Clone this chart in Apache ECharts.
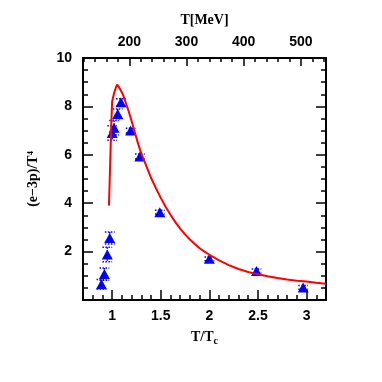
<!DOCTYPE html>
<html><head><meta charset="utf-8">
<script src="https://cdn.jsdelivr.net/npm/echarts@6/dist/echarts.min.js"></script>
<style>html,body{margin:0;padding:0;background:#fff}#c{width:382px;height:382px}</style>
</head><body><div id="c"></div>
<script>
// ---- data ----
const TC = 170; // MeV, conversion for the top axis
const curveX = [0.967, 0.975, 0.985, 0.993, 1.0, 1.02, 1.04, 1.052, 1.07, 1.09, 1.11, 1.14, 1.17, 1.2, 1.235, 1.27, 1.3, 1.35, 1.4, 1.45, 1.5, 1.55, 1.6, 1.65, 1.7, 1.75, 1.8, 1.85, 1.9, 1.95, 2.0, 2.1, 2.2, 2.3, 2.4, 2.5, 2.6, 2.7, 2.8, 2.9, 3.0, 3.1, 3.2];
const curveY = [3.9, 5.0, 6.4, 7.5, 8.2, 8.55, 8.8, 8.9, 8.8, 8.65, 8.5, 8.15, 7.8, 7.4, 6.9, 6.42, 6.05, 5.55, 5.05, 4.62, 4.22, 3.85, 3.52, 3.22, 2.95, 2.71, 2.5, 2.31, 2.14, 2.0, 1.87, 1.64, 1.44, 1.28, 1.16, 1.06, 0.98, 0.91, 0.85, 0.8, 0.76, 0.71, 0.67];
const ptX = [0.89, 0.92, 0.95, 0.975, 1.0, 1.02, 1.057, 1.09, 1.19, 1.285, 1.49, 2.0, 2.485, 2.965];
const ptY = [0.65, 1.07, 1.88, 2.56, 6.9, 7.12, 7.69, 8.17, 7.0, 5.93, 3.63, 1.7, 1.2, 0.52];
const ptXErr = [0.05, 0.05, 0.05, 0.05, 0.05, 0.05, 0.05, 0.05, 0.05, 0.05, 0.05, 0.05, 0.05, 0.05];
const ptYErr = [0.2, 0.25, 0.3, 0.25, 0.3, 0.3, 0.2, 0.15, 0.1, 0.1, 0.08, 0.08, 0.08, 0.08];
const xMajor = [1, 1.5, 2, 2.5, 3];
const xMinor = [0.8, 0.9, 1.1, 1.2, 1.3, 1.4, 1.6, 1.7, 1.8, 1.9, 2.1, 2.2, 2.3, 2.4, 2.6, 2.7, 2.8, 2.9, 3.1];
const mevMajor = [200, 300, 400, 500];
const mevMinor = [120, 140, 160, 180, 220, 240, 260, 280, 320, 340, 360, 380, 420, 440, 460, 480, 520, 540];
const yLabels = [2, 4, 6, 8, 10];

// ---- chart ----
const chart = echarts.init(document.getElementById('c'), null, {renderer: 'canvas'});
const black = '#000';
const numFont = {fontFamily: 'Liberation Sans', fontWeight: 'bold', fontSize: 14, color: black};
const titleFont = {fontFamily: 'Liberation Serif', fontWeight: 'bold', fontSize: 14, color: black};
const lineSt = {show: true, lineStyle: {color: black, width: 2}};

const curve = curveX.map((x, i) => [x, curveY[i]]);
const pts = ptX.map((x, i) => [x, ptY[i]]);
const errs = ptX.map((x, i) => [x, ptY[i], ptXErr[i], ptYErr[i]]);

chart.setOption({
  animation: false,
  backgroundColor: '#fff',
  grid: {left: 83, right: 56, top: 58, bottom: 82},
  xAxis: [
    {type: 'value', position: 'bottom', min: 0.7, max: 3.2,
      axisLine: lineSt, splitLine: {show: false},
      axisTick: {show: true, inside: true, length: 10, customValues: xMajor, lineStyle: {color: black, width: 1.5}},
      axisLabel: Object.assign({customValues: xMajor, margin: 9}, numFont),
      name: 'T/T{s|c}', nameLocation: 'middle', nameGap: 28,
      nameTextStyle: Object.assign({rich: {s: {fontFamily: 'Liberation Serif', fontWeight: 'bold', fontSize: 10, verticalAlign: 'bottom', padding: [8, 0, 0, 0]}}}, titleFont)
    },
    {type: 'value', position: 'bottom', min: 0.7, max: 3.2,
      axisLine: {show: false}, splitLine: {show: false}, axisLabel: {show: false},
      axisTick: {show: true, inside: true, length: 5, customValues: xMinor, lineStyle: {color: black, width: 1.5}}
    },
    {type: 'value', position: 'top', min: 0.7 * TC, max: 3.2 * TC,
      axisLine: lineSt, splitLine: {show: false},
      axisTick: {show: true, inside: true, length: 8, customValues: mevMajor, lineStyle: {color: black, width: 1.5}},
      axisLabel: Object.assign({customValues: mevMajor, margin: 9}, numFont),
      name: 'T[MeV]', nameLocation: 'middle', nameGap: 31, nameTextStyle: titleFont
    },
    {type: 'value', position: 'top', min: 0.7 * TC, max: 3.2 * TC,
      axisLine: {show: false}, splitLine: {show: false}, axisLabel: {show: false},
      axisTick: {show: true, inside: true, length: 4, customValues: mevMinor, lineStyle: {color: black, width: 1.5}}
    }
  ],
  yAxis: [
    {type: 'value', position: 'left', min: 0, max: 10, interval: 2,
      axisLine: lineSt, splitLine: {show: false},
      axisTick: {show: true, inside: true, length: 10, lineStyle: {color: black, width: 1.5}},
      minorTick: {show: true, splitNumber: 4, length: 5, lineStyle: {color: black, width: 1.5}},
      axisLabel: Object.assign({customValues: yLabels, margin: 11}, numFont),
      name: '(e\u22123p)/T\u2074', nameLocation: 'middle', nameGap: 43, nameTextStyle: titleFont
    },
    {type: 'value', position: 'right', min: 0, max: 10, interval: 2,
      axisLine: lineSt, splitLine: {show: false}, axisLabel: {show: false},
      axisTick: {show: true, inside: true, length: 10, lineStyle: {color: black, width: 1.5}},
      minorTick: {show: true, splitNumber: 4, length: 5, lineStyle: {color: black, width: 1.5}}
    }
  ],
  series: [
    {type: 'custom', xAxisIndex: 0, yAxisIndex: 0, data: errs, z: 2,
      encode: {x: 0, y: 1},
      renderItem: function (params, api) {
        const x = api.value(0), y = api.value(1), xe = api.value(2), ye = api.value(3);
        const a = api.coord([x - xe, y + ye]), b = api.coord([x + xe, y + ye]);
        const c = api.coord([x - xe, y - ye]), d = api.coord([x + xe, y - ye]);
        const t = api.coord([x, y + ye]), u = api.coord([x, y - ye]);
        const st = {stroke: '#0000ff', lineWidth: 1.5, lineDash: [1.5, 1.5], fill: null};
        return {type: 'group', children: [
          {type: 'line', shape: {x1: a[0], y1: a[1], x2: b[0], y2: b[1]}, style: st},
          {type: 'line', shape: {x1: c[0], y1: c[1], x2: d[0], y2: d[1]}, style: st},
          {type: 'line', shape: {x1: t[0], y1: t[1], x2: u[0], y2: u[1]}, style: st}
        ]};
      }
    },
    {type: 'scatter', xAxisIndex: 0, yAxisIndex: 0, data: pts, z: 3,
      symbol: 'triangle', symbolSize: [11, 10],
      itemStyle: {color: '#0000ff', opacity: 1}
    },
    {type: 'line', xAxisIndex: 0, yAxisIndex: 0, data: curve, z: 4,
      showSymbol: false, symbol: 'none', smooth: false,
      lineStyle: {color: '#ff0000', width: 2}
    }
  ]
});
</script></body></html>
